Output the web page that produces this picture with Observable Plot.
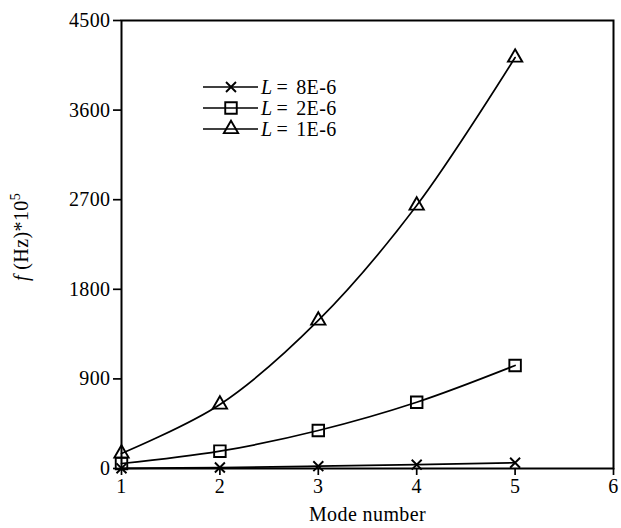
<!DOCTYPE html>
<html>
<head>
<meta charset="utf-8">
<script src="https://cdn.jsdelivr.net/npm/d3@7"></script>
<script src="https://cdn.jsdelivr.net/npm/@observablehq/plot@0.6"></script>
<style>
  body { margin: 0; background: #fff; }
  #wrap { position: relative; width: 621px; height: 528px; font-family: "Liberation Serif", serif; }
  #legend { position: absolute; left: 0; top: 0; pointer-events: none; }
</style>
</head>
<body>
<div id="wrap"></div>
<script>
const modes = [1, 2, 3, 4, 5];
const seriesNames = ["8E-6", "2E-6", "1E-6"];
const valuesL8 = [2, 10, 23, 38, 58];
const valuesL2 = [50, 174, 382, 666, 1035];
const valuesL1 = [151, 643, 1487, 2642, 4128];
const xTicks = [1, 2, 3, 4, 5, 6];
const yTicks = [0, 900, 1800, 2700, 3600, 4500];
const symbols = ["times", "square", "triangle"];
const symbolRadius = [4.6, 6.5, 5.3];

const allValues = [valuesL8, valuesL2, valuesL1];
const data = [];
allValues.forEach((vals, si) => {
  vals.forEach((v, i) => data.push({mode: modes[i], f: v, series: seriesNames[si]}));
});

const fontSize = 20;
const sw = 1.7;
const chart = Plot.plot({
  width: 621,
  height: 528,
  marginLeft: 121,
  marginRight: 8,
  marginTop: 20,
  marginBottom: 60,
  style: { fontFamily: "Liberation Serif, serif", fontSize: fontSize + "px", color: "#000", background: "#fff", overflow: "visible", letterSpacing: "0.4px" },
  x: { domain: [1, 6] },
  y: { domain: [0, 4500] },
  marks: [
    Plot.axisX({ ticks: xTicks, tickSize: 7, tickPadding: 3, tickFormat: d => String(d), label: "Mode number", labelAnchor: "center", labelOffset: 52, labelArrow: "none", strokeWidth: sw }),
    Plot.axisY({ ticks: yTicks, tickSize: 8, tickPadding: 3, tickFormat: d => String(d), label: null, strokeWidth: sw }),
    Plot.line(data, { x: "mode", y: "f", z: "series", curve: "catmull-rom", stroke: "#000", strokeWidth: sw }),
    ...seriesNames.map((name, i) =>
      Plot.dot(data.filter(d => d.series === name), { x: "mode", y: "f", symbol: () => symbols[i], r: symbolRadius[i], stroke: "#000", fill: "none", strokeWidth: 1.9 })
    ),
    Plot.frame({ stroke: "#000", strokeWidth: 2 })
  ]
});
document.getElementById("wrap").appendChild(chart);

// y-axis label with italic f and superscript
const svg = d3.select(chart);
const yl = svg.append("text")
  .attr("transform", "translate(28,237) rotate(-90)")
  .attr("text-anchor", "middle")
  .attr("font-family", "Liberation Serif, serif")
  .attr("font-size", fontSize)
  .attr("letter-spacing", "0.4px")
  .attr("fill", "#000");
yl.append("tspan").attr("font-style", "italic").text("f");
yl.append("tspan").text(" (Hz)*10");
yl.append("tspan").attr("font-size", 14).attr("dy", -8).text("5");

// legend
const symMap = { times: d3.symbolTimes, square: d3.symbolSquare, triangle: d3.symbolTriangle };
const lg = d3.select("#wrap").append("svg").attr("id", "legend").attr("width", 621).attr("height", 528);
seriesNames.forEach((name, i) => {
  const y = 87 + i * 21;
  lg.append("line").attr("x1", 203).attr("x2", 258).attr("y1", y).attr("y2", y).attr("stroke", "#000").attr("stroke-width", sw);
  const r = symbolRadius[i];
  lg.append("path").attr("transform", `translate(231,${y})`)
    .attr("d", d3.symbol(symMap[symbols[i]], r * r * Math.PI)())
    .attr("fill", "none").attr("stroke", "#000").attr("stroke-width", 1.9);
  const t = lg.append("text").attr("x", 261).attr("y", y + 7).attr("font-family", "Liberation Serif, serif").attr("font-size", fontSize).attr("letter-spacing", "0.4px");
  t.append("tspan").attr("font-style", "italic").text("L");
  t.append("tspan").attr("dx", 4).text("=");
  t.append("tspan").attr("dx", 8).text(name);
});
</script>
</body>
</html>
